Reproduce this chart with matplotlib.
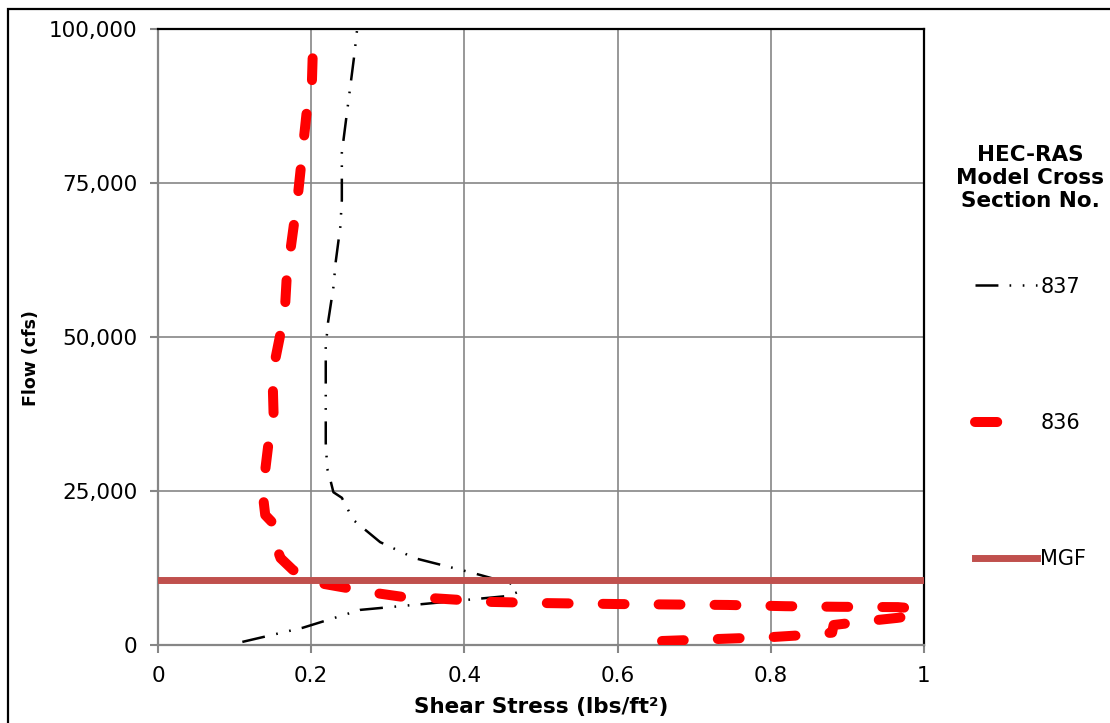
import matplotlib
matplotlib.use('Agg')
import matplotlib.pyplot as plt
import numpy as np
from matplotlib.lines import Line2D
from matplotlib.patches import Rectangle
from matplotlib.ticker import FuncFormatter

# shear stress (lbs/ft2) vs flow (cfs) for each HEC-RAS cross section
shear_837 = [0.110, 0.189, 0.264, 0.346, 0.456, 0.470, 0.460, 0.411, 0.335, 0.290,
             0.255, 0.240, 0.229, 0.225, 0.221, 0.219, 0.219, 0.222, 0.229, 0.232,
             0.238, 0.240, 0.240, 0.248, 0.256, 0.260]
flow_837 = [500, 2800, 5700, 6650, 7950, 8600, 10000, 11700, 14100, 16700,
            20300, 23900, 24800, 26800, 28600, 32800, 48400, 52400, 58100, 62200,
            67900, 72200, 79900, 87700, 95500, 100000]

shear_836 = [0.658, 0.730, 0.803, 0.842, 0.880, 0.882, 0.927, 0.965, 1.030, 0.966,
             0.890, 0.819, 0.744, 0.599, 0.508, 0.433, 0.359, 0.320, 0.286, 0.247,
             0.208, 0.176, 0.160, 0.157, 0.150, 0.140, 0.138, 0.140, 0.144, 0.151,
             0.150, 0.153, 0.159, 0.166, 0.168, 0.183, 0.194, 0.201, 0.203]
flow_836 = [650, 970, 1300, 1600, 2000, 3250, 3900, 4400, 5500, 6150,
            6200, 6300, 6500, 6650, 6800, 7000, 7600, 7800, 8400, 9250,
            10100, 12200, 14100, 15100, 19800, 21100, 23200, 28400, 32500, 37000,
            41400, 46300, 50000, 55200, 59600, 73400, 86400, 91700, 100000]

mgf_flow = 10600

x_ticks = [0, 0.2, 0.4, 0.6, 0.8, 1]
x_ticklabels = ['0', '0.2', '0.4', '0.6', '0.8', '1']
y_ticks = [0, 25000, 50000, 75000, 100000]

plt.rcParams['font.family'] = 'DejaVu Sans'
plt.rcParams['lines.scale_dashes'] = False

W, H = 1110, 723
fig = plt.figure(figsize=(W/100, H/100), dpi=100)
ax = fig.add_axes([158/W, 1-645/H, (924-158)/W, (645-29)/H])
ax.set_xlim(0, 1)
ax.set_ylim(0, 100000)

gridgray = '#868686'
red = '#ff0000'


def fit_dashes(xs, ys, pattern, start, end):
    # stretch the dash pattern (points) a little so it starts at phase `start`
    # and finishes at phase `end` along the whole drawn path
    pts = ax.transData.transform(np.column_stack([xs, ys]))
    length = np.hypot(*np.diff(pts, axis=0).T).sum() * 72 / fig.dpi
    period = sum(pattern)
    n = max(1, round((length + start - end) / period))
    k = (length + start - end) / (n * period)
    return (start * k, tuple(p * k for p in pattern))


# curves are drawn from the high-flow end so the dash pattern starts at the top
x837, y837 = shear_837[::-1], flow_837[::-1]
pat837 = (16.5, 8, 1.2, 8.3, 1.2, 8.3)
l837, = ax.plot(x837, y837, color='black', lw=1.8, zorder=3,
                ls=fit_dashes(x837, y837, pat837, 23, 16.5))

x836, y836 = shear_836[::-1], flow_836[::-1]
pat836 = (16, 25)
l836, = ax.plot(x836, y836, color=red, lw=7.2, zorder=4,
                solid_capstyle='round', dash_capstyle='round',
                ls=fit_dashes(x836, y836, pat836, 19.5, 16))

lmgf = ax.axhline(mgf_flow, color='#c0504d', lw=5, zorder=5)

ax.set_xticks(x_ticks)
ax.set_xticklabels(x_ticklabels)
ax.set_yticks(y_ticks)
ax.yaxis.set_major_formatter(FuncFormatter(lambda v, p: f'{int(v):,}'))
ax.tick_params(axis='both', labelsize=15.5, color=gridgray, width=1.5, length=6)
ax.tick_params(axis='y', pad=9)
ax.tick_params(axis='x', pad=9)

ax.grid(True, color=gridgray, lw=1.2)
ax.set_axisbelow(True)
for s in ['left', 'bottom']:
    ax.spines[s].set_color(gridgray)
    ax.spines[s].set_linewidth(1.6)
for s in ['top', 'right']:
    ax.spines[s].set_color('black')
    ax.spines[s].set_linewidth(1.6)

ax.set_xlabel('Shear Stress (lbs/ft²)', fontsize=15.5, fontweight='bold')
ax.xaxis.set_label_coords(0.5, (645-697)/616)
ax.set_ylabel('Flow (cfs)', fontsize=12.5, fontweight='bold')
ax.yaxis.set_label_coords((40-158)/766, (645-358)/616)

# legend: short red handle so only one dash shows
h837 = Line2D([], [], color='black', lw=1.8, ls=(0, pat837))
h836 = Line2D([], [], color=red, lw=7.2, dash_capstyle='round',
              solid_capstyle='round', ls=(0, (16, 40)))
leg = fig.legend(handles=[h837, h836, lmgf], labels=['837', '836', 'MGF'],
                 loc='center left', bbox_to_anchor=(975/W, 1-423/H),
                 frameon=False, fontsize=15, borderpad=0, borderaxespad=0,
                 handlelength=2.98, handletextpad=0.15, labelspacing=5.59)
fig.text(1030/W, 1-178/H, 'HEC-RAS\nModel Cross\nSection No.', ha='center',
         va='center', fontsize=15.5, fontweight='bold', linespacing=1.2)

# outer chart frame
fig.patches.append(Rectangle((8/W, -0.05), 1.2, 1-9/H+0.05,
                             transform=fig.transFigure, fill=False,
                             edgecolor='black', lw=1.6))

fig.savefig('out.png', dpi=100)
